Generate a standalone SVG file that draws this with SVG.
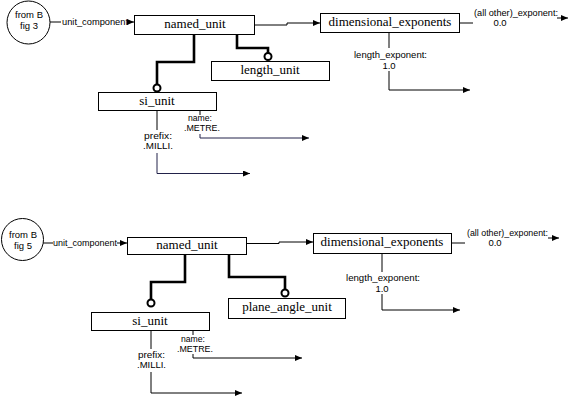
<svg xmlns="http://www.w3.org/2000/svg" width="571" height="416" viewBox="0 0 571 416">
<style>
.box{fill:#fff;stroke:#000;stroke-width:1}
.bt{font-family:"Liberation Serif","Times New Roman",serif;font-size:13px;text-anchor:middle;fill:#000}
.lb{font-family:"Liberation Sans",Arial,sans-serif;font-size:9.5px;fill:#000}
.mid{text-anchor:middle}
.ln{fill:none;stroke:#000;stroke-width:1}
.bl{fill:none;stroke:#22224a;stroke-width:1}
.thk{fill:none;stroke:#000;stroke-width:2.6}
.oc{fill:#fff;stroke:#000;stroke-width:2}
.ci{fill:#fff;stroke:#000;stroke-width:1}
</style>
<defs>
<marker id="ah" markerWidth="7" markerHeight="6" refX="7" refY="3" orient="auto" markerUnits="userSpaceOnUse">
<path d="M0,0 L7,3 L0,6 Z" fill="#000"/>
</marker>
</defs>
<rect width="571" height="416" fill="#fff"/>

<g id="connectors">
<!-- top -->
<line class="ln" x1="50" y1="22" x2="61" y2="22"/>
<line class="ln" x1="128" y1="22" x2="134" y2="22" marker-end="url(#ah)"/>
<polyline class="ln" points="254,25 287,25 287,23 320,23" marker-end="url(#ah)"/>
<line class="ln" x1="459" y1="23" x2="473" y2="23"/>
<line class="ln" x1="557" y1="18" x2="568" y2="18" marker-end="url(#ah)"/>
<line class="ln" x1="389" y1="32" x2="389" y2="48"/>
<polyline class="ln" points="389,71 389,90 470,90" marker-end="url(#ah)"/>
<polyline class="thk" points="237,34 237,48 268,48 268,53"/>
<circle class="oc" cx="268" cy="56.5" r="3.5"/>
<polyline class="thk" points="194,34 194,62 157,62 157,84"/>
<circle class="oc" cx="157" cy="88" r="3.5"/>
<line class="ln" x1="200" y1="110" x2="200" y2="115"/>
<polyline class="bl" points="200,134 200,138 309,138" marker-end="url(#ah)"/>
<line class="ln" x1="157" y1="110" x2="157" y2="130"/>
<polyline class="bl" points="157,153 157,173.5 250,173.5" marker-end="url(#ah)"/>
<!-- bottom -->
<line class="ln" x1="43" y1="243" x2="53" y2="243"/>
<line class="ln" x1="117" y1="243" x2="127" y2="243" marker-end="url(#ah)"/>
<polyline class="ln" points="246,243.5 279,243.5 279,242 313,242" marker-end="url(#ah)"/>
<line class="ln" x1="451" y1="243" x2="465" y2="243"/>
<line class="ln" x1="548" y1="238" x2="559" y2="238" marker-end="url(#ah)"/>
<line class="ln" x1="382" y1="253" x2="382" y2="272"/>
<polyline class="ln" points="382,294 382,310 460,310" marker-end="url(#ah)"/>
<polyline class="thk" points="229,254 229,277 285,277 285,289"/>
<circle class="oc" cx="285" cy="293" r="3.5"/>
<polyline class="thk" points="185,254 185,282 151,282 151,299"/>
<circle class="oc" cx="151" cy="303" r="3.5"/>
<line class="ln" x1="193" y1="330" x2="193" y2="335"/>
<polyline class="ln" points="193,354 193,358 302,358" marker-end="url(#ah)"/>
<line class="ln" x1="151" y1="330" x2="151" y2="349"/>
<polyline class="ln" points="151,372 151,393 242,393" marker-end="url(#ah)"/>
</g>

<g id="labels">
<text class="lb" x="62" y="25" textLength="66" lengthAdjust="spacingAndGlyphs">unit_component</text>
<text class="lb" x="474" y="16" textLength="84" lengthAdjust="spacingAndGlyphs">(all other)_exponent:</text>
<text class="lb mid" x="500" y="26">0.0</text>
<text class="lb" x="354" y="57.5" textLength="73" lengthAdjust="spacingAndGlyphs">length_exponent:</text>
<text class="lb mid" x="389" y="69">1.0</text>
<text class="lb" x="188" y="121" textLength="24" lengthAdjust="spacingAndGlyphs">name:</text>
<text class="lb" x="184" y="131" textLength="36" lengthAdjust="spacingAndGlyphs">.METRE.</text>
<text class="lb" x="144" y="139" textLength="28" lengthAdjust="spacingAndGlyphs">prefix:</text>
<text class="lb" x="143" y="149" textLength="30" lengthAdjust="spacingAndGlyphs">.MILLI.</text>

<text class="lb" x="53" y="246" textLength="64" lengthAdjust="spacingAndGlyphs">unit_component</text>
<text class="lb" x="467" y="236" textLength="81" lengthAdjust="spacingAndGlyphs">(all other)_exponent:</text>
<text class="lb mid" x="495" y="246">0.0</text>
<text class="lb" x="346" y="280.5" textLength="74" lengthAdjust="spacingAndGlyphs">length_exponent:</text>
<text class="lb mid" x="382" y="292">1.0</text>
<text class="lb" x="181" y="342" textLength="24" lengthAdjust="spacingAndGlyphs">name:</text>
<text class="lb" x="177" y="352" textLength="36" lengthAdjust="spacingAndGlyphs">.METRE.</text>
<text class="lb" x="138" y="358" textLength="27" lengthAdjust="spacingAndGlyphs">prefix:</text>
<text class="lb" x="137" y="368" textLength="29" lengthAdjust="spacingAndGlyphs">.MILLI.</text>
</g>

<g id="fromB3">
<circle class="ci" cx="28.5" cy="22.5" r="21.5"/>
<text class="lb mid" x="29" y="18">from B</text>
<text class="lb mid" x="29" y="29">fig 3</text>
</g>
<g id="named_unit_1">
<rect class="box" x="134.5" y="15.5" width="120" height="19"/>
<text class="bt" x="195" y="28">named_unit</text>
</g>
<g id="dimensional_exponents_1">
<rect class="box" x="320.5" y="13.5" width="139" height="19"/>
<text class="bt" x="390" y="26">dimensional_exponents</text>
</g>
<g id="length_unit">
<rect class="box" x="211.5" y="61.5" width="118" height="19"/>
<text class="bt" x="270" y="74">length_unit</text>
</g>
<g id="si_unit_1">
<rect class="box" x="98.5" y="92.5" width="118" height="18"/>
<text class="bt" x="157" y="105">si_unit</text>
</g>

<g id="fromB5">
<circle class="ci" cx="22.5" cy="239.5" r="21"/>
<text class="lb mid" x="23" y="238">from B</text>
<text class="lb mid" x="23" y="249">fig 5</text>
</g>
<g id="named_unit_2">
<rect class="box" x="127.5" y="237.5" width="119" height="17"/>
<text class="bt" x="187" y="249">named_unit</text>
</g>
<g id="dimensional_exponents_2">
<rect class="box" x="313.5" y="233.5" width="138" height="20"/>
<text class="bt" x="382" y="246">dimensional_exponents</text>
</g>
<g id="plane_angle_unit">
<rect class="box" x="228.5" y="298.5" width="117" height="20"/>
<text class="bt" x="287" y="311">plane_angle_unit</text>
</g>
<g id="si_unit_2">
<rect class="box" x="91.5" y="312.5" width="118" height="18"/>
<text class="bt" x="150" y="325">si_unit</text>
</g>
</svg>
